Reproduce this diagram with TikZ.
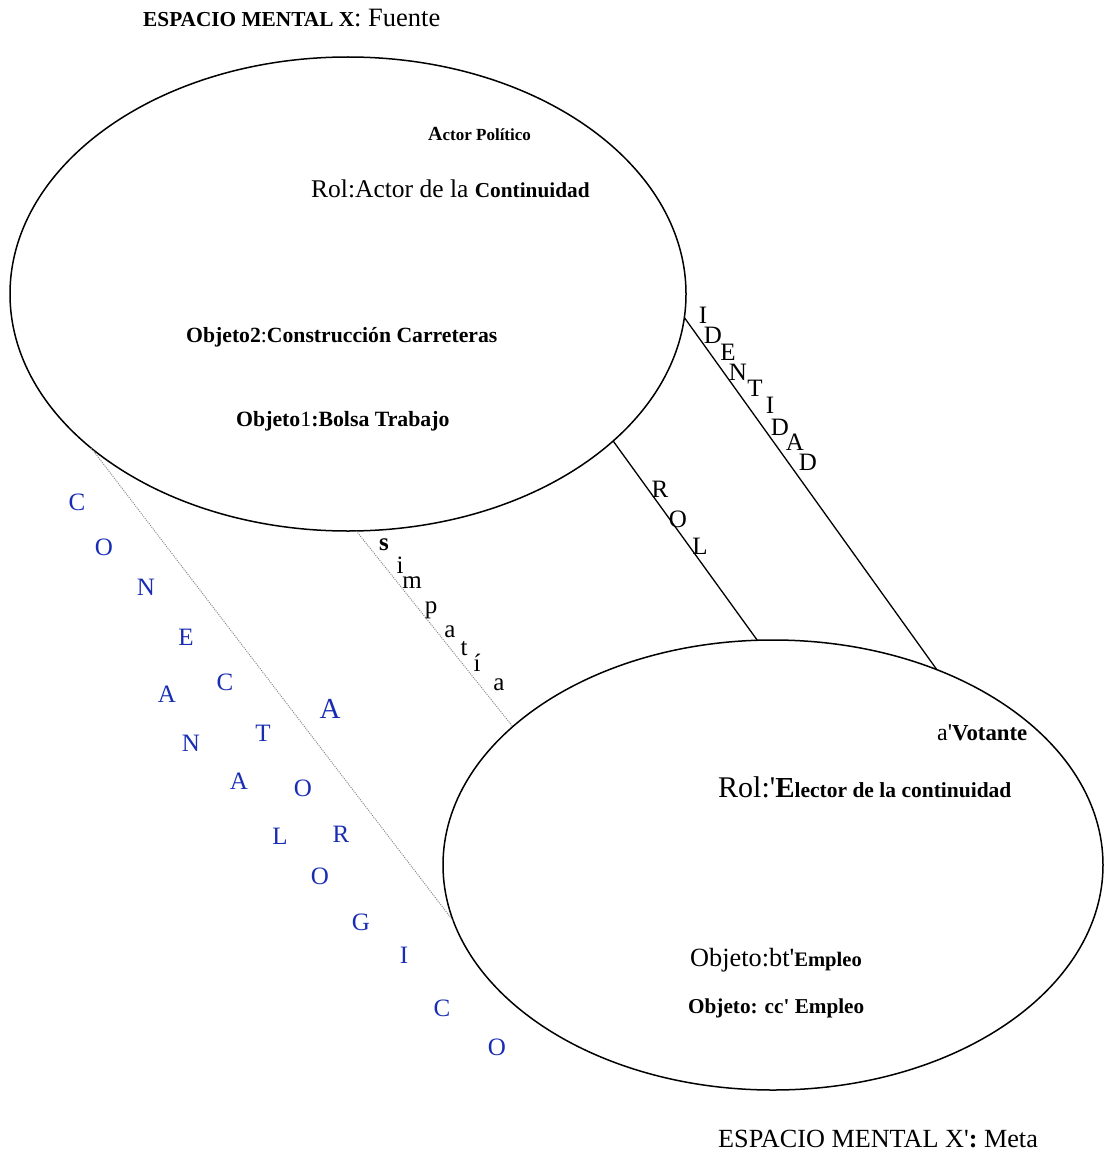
\documentclass[tikz,border=0pt]{standalone}
\usepackage{fontspec}
\setmainfont{Liberation Serif}[Ligatures=TeXOff]
\usetikzlibrary{shapes.geometric}
\definecolor{analog}{RGB}{25,45,180}
\newcommand{\fsz}[1]{\fontsize{#1}{#1}\selectfont}
\tikzset{
  space/.style={ellipse, draw, line width=1.5pt, inner sep=0pt, outer sep=0pt},
  solidlink/.style={line width=1.3pt},
  dotlink/.style={line width=0.9pt, gray, dash pattern=on 1pt off 1.2pt},
  txt/.style={anchor=base west, inner sep=0pt},
  lett/.style={inner sep=0pt, font=\fsz{25}},
  blett/.style={inner sep=0pt, font=\fsz{25}, text=analog},
}
\begin{document}
\begin{tikzpicture}[x=1pt,y=-1pt]
\useasboundingbox[fill=white] (0,0) rectangle (1103,1153);

% mental spaces
\node[space, minimum width=676pt, minimum height=474pt] (e1) at (348,294) {};
\node[space, minimum width=660pt, minimum height=450pt] (e2) at (773,865) {};

% connectors
\draw[solidlink] (e1.-4.9) -- (e2.50.4);
\draw[solidlink] (e1.-29.5) -- (e2.94.1);
\draw[dotlink] (e1.-88.3) -- (e2.152.9);
\draw[dotlink] (e1.-149.1) -- (e2.-170.2);

% titles
\node[txt] (t1) at (143,27) {{\fsz{21.3}\bfseries ESPACIO MENTAL X}{\fsz{26.5}: Fuente}};
\node[txt] (t2) at (718,1147) {\fsz{26.2}ESPACIO MENTAL X'{\bfseries:} Meta};

% source space texts
\node[txt] (s1) at (428,140) {\bfseries{\fsz{20}A}{\fsz{17}ctor Político}};
\node[txt] (s2) at (311,197) {{\fsz{25.5}Rol:Actor de la }{\fsz{21.3}\bfseries Continuidad}};
\node[txt] (s3) at (186,342) {\fsz{21.7}{\bfseries Objeto2}:{\bfseries Construcción Carreteras}};
\node[txt] (s4) at (236,426) {\fsz{21.8}{\bfseries Objeto}1{\bfseries :Bolsa Trabajo}};

% target space texts
\node[txt] (g1) at (937,740) {{\fsz{24}a'}{\fsz{22.8}\bfseries Votante}};
\node[txt] (g2) at (718,797) {{\fsz{30}Rol:'}{\fsz{29}\bfseries E}{\fsz{21.5}\bfseries lector de la continuidad}};
\node[txt] (g3) at (690,966) {{\fsz{26.3}Objeto:bt'}{\fsz{20.6}\bfseries Empleo}};
\node[txt] (g4) at (688,1013) {\fsz{21.2}\bfseries Objeto: cc' Empleo};

% IDENTIDAD
\foreach \t/\x/\y [count=\i] in {I/703/315, D/713/335, E/728/352, N/738/372, T/755/388, I/770/405, D/780/427, A/795/442, D/808/462}
  \node[lett] (id\i) at (\x,\y) {\t};

% ROL
\foreach \t/\x/\y [count=\i] in {R/660/489, O/678/519, L/700/546}
  \node[lett] (rol\i) at (\x,\y) {\t};

% simpatia
\node[lett, font=\fsz{25}\bfseries] (sim0) at (384,545) {s};
\foreach \t/\x/\y [count=\i] in {i/400/565, m/412/583, p/431/610, a/450/632, t/464/649, í/477/663, a/499/685}
  \node[lett] (sim\i) at (\x,\y) {\t};

% CONECTOR ANALOGICO
\foreach \t/\x/\y [count=\i] in {C/77/502, O/104/547, N/146/587, E/186/637, C/225/682, T/263/733, O/303/788, R/341/834}
  \node[blett] (con\i) at (\x,\y) {\t};
\foreach \t/\x/\y [count=\i] in {A/167/694, N/191/743, A/239/781, L/280/836, O/320/876, G/361/922, I/404/955, C/442/1008, O/497/1047}
  \node[blett] (ana\i) at (\x,\y) {\t};
\node[blett, font=\fsz{29}] (bigA) at (330,709) {A};
\end{tikzpicture}
\end{document}
